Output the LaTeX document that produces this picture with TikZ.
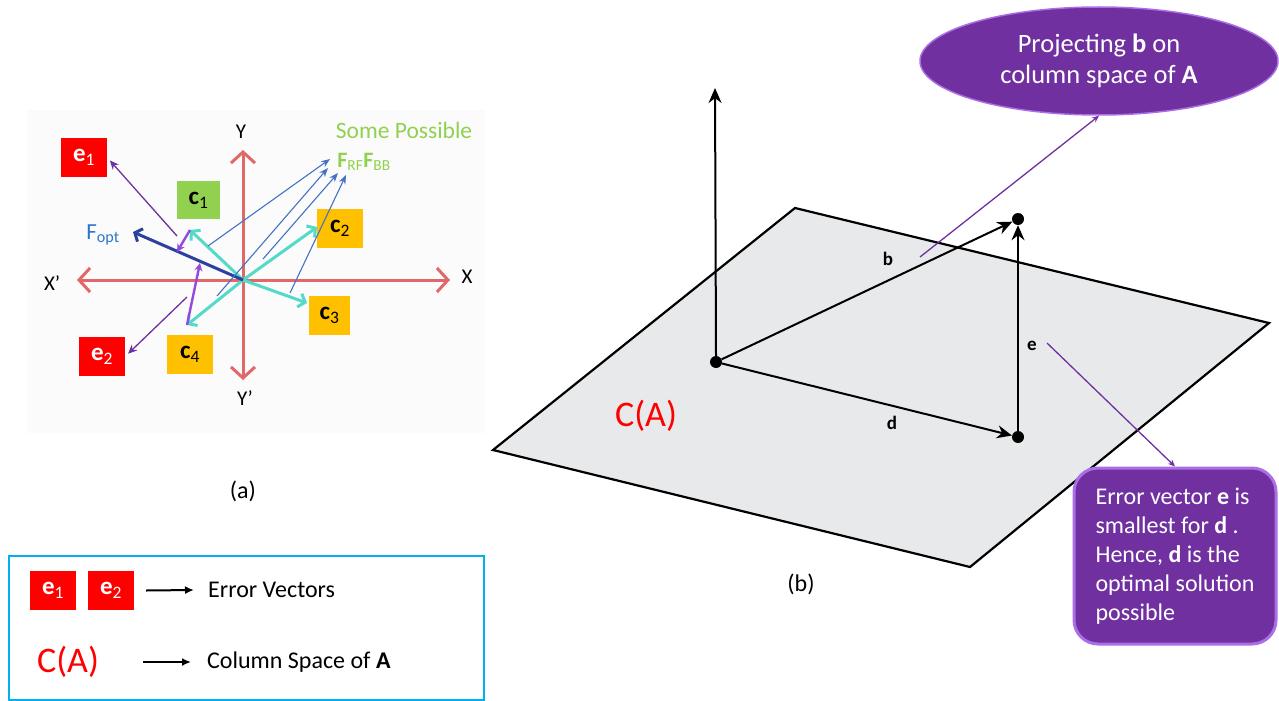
\documentclass[tikz,border=0pt]{standalone}
\usepackage{fontspec}
\setmainfont{Carlito}
\usetikzlibrary{arrows.meta,shapes.geometric}
\definecolor{axred}{RGB}{224,104,104}
\definecolor{cyanv}{RGB}{84,218,200}
\definecolor{foptc}{RGB}{44,64,160}
\definecolor{foptt}{RGB}{46,117,200}
\definecolor{thinblue}{RGB}{68,114,196}
\definecolor{purp}{HTML}{7030A0}
\definecolor{violettwo}{RGB}{150,72,224}
\definecolor{rimviolet}{RGB}{170,110,230}
\definecolor{lgreen}{HTML}{92D050}
\definecolor{orng}{HTML}{FFC000}
\definecolor{legblue}{HTML}{00B0F0}
\definecolor{planec}{RGB}{231,233,234}
\definecolor{bgA}{RGB}{251,251,251}
\newcommand{\fs}[2]{\fontsize{#1}{#2}\selectfont}
\tikzset{
  sqbox/.style={minimum width=46pt, minimum height=39pt, inner sep=0pt, font=\fs{25}{28}},
  ebox/.style={sqbox, fill=red, text=white},
  cgbox/.style={sqbox, fill=lgreen, text=black, minimum width=43pt, minimum height=38pt},
  cobox/.style={sqbox, fill=orng, text=black},
  axisline/.style={axred, line width=3pt, {Straight Barb[length=11pt,width=24pt]}-{Straight Barb[length=11pt,width=24pt]}},
  cvec/.style={cyanv, line width=3pt, -{Straight Barb[length=6pt,width=14pt]}},
  foptvec/.style={foptc, line width=3pt, -{Straight Barb[length=6pt,width=14pt]}},
  pthick/.style={violettwo, line width=2.4pt, -{Stealth[length=8pt,width=8pt]}},
  pthin/.style={purp, line width=1.3pt, -{Stealth[length=9pt,width=8pt]}},
  bthin/.style={thinblue, line width=1.1pt, -{Stealth[length=9pt,width=7pt]}},
  axlbl/.style={font=\fs{21}{25}, text=black, inner sep=0pt},
  bigred/.style={font=\fs{36}{40}, text=red, inner sep=0pt},
  caplbl/.style={font=\fs{24}{28}, inner sep=0pt},
  legtxt/.style={font=\fs{24}{28}, anchor=west, inner sep=0pt},
  legarrow/.style={black, line width=2pt, -{Latex[length=9pt,width=8pt]}},
  dot/.style={circle, fill=black, inner sep=0pt, minimum size=12pt},
  vec/.style={black, line width=2pt, -{Stealth[length=15pt,width=13pt]}},
  veclbl/.style={font=\fs{19}{22}\bfseries, inner sep=0pt},
  pline/.style={purp, line width=1.3pt, -{Stealth[length=7pt,width=6pt]}}
}
\begin{document}
\begin{tikzpicture}[x=1pt,y=-1pt]
\useasboundingbox (0,0) rectangle (1279,701);
% ---------- panel (a) ----------
\fill[bgA] (27,110) rectangle (485,433);
\coordinate (oa) at (243,280);
\coordinate (xl) at (77,280);
\coordinate (xr) at (450,280);
\coordinate (yt) at (243,150);
\coordinate (yb) at (243,380);
\draw[axisline] (xl) -- (xr);
\draw[axisline] (yt) -- (yb);
\node[axlbl] (Yn) at (241,132) {Y};
\node[axlbl] (Xn) at (467,277) {X};
\node[axlbl] (Xp) at (52,283) {X’};
\node[axlbl] (Yp) at (245,398) {Y’};
\node[font=\fs{23.5}{27}, text=lgreen, inner sep=0pt] (sp) at (404,130) {Some Possible};
\node[font=\fs{22}{26}, text=lgreen, inner sep=0pt] (frf) at (364,162) {\textbf{F}\textsubscript{RF}\textbf{F}\textsubscript{BB}};
% boxes
\node[ebox] (e1) at (84,157.5) {\textbf{e}\textsubscript{1}};
\node[ebox] (e2) at (102,356.5) {\textbf{e}\textsubscript{2}};
\node[cgbox] (c1) at (198.5,200) {\textbf{c}\textsubscript{1}};
\node[cobox] (c2) at (340,228.5) {\textbf{c}\textsubscript{2}};
\node[cobox, minimum width=41pt] (c3) at (329.5,315.5) {\textbf{c}\textsubscript{3}};
\node[cobox] (c4) at (190,354.5) {\textbf{c}\textsubscript{4}};
% vector tips
\coordinate (c1t) at (190,230);
\coordinate (c2t) at (317,227);
\coordinate (c3t) at (307,303);
\coordinate (c4t) at (187,325);
\coordinate (fopt) at (133,232);
\draw[cvec] (oa) -- (c1t);
\draw[cvec] (oa) -- (c2t);
\draw[cvec] (oa) -- (c3t);
\draw[cvec] (oa) -- (c4t);
\draw[foptvec] (oa) -- (fopt);
\node[font=\fs{23}{26}, text=foptt, inner sep=0pt] (foptl) at (103,235) {F\textsubscript{opt}};
% projections onto F_opt
\coordinate (p1) at (177,252);
\coordinate (p2) at (200,263);
\draw[pthick] (c1t) -- (p1);
\draw[pthick] (c4t) -- (p2);
% error vectors
\coordinate (s1) at (177,236);
\coordinate (s2) at (187,297);
\draw[pthin, shorten >=4pt] (s1) -- (e1.east);
\draw[pthin, shorten >=4pt] (s2) -- (e2.east);
% possible precoders
\coordinate (b1s) at (208,246);
\coordinate (b2s) at (217,296);
\coordinate (b3s) at (263,259);
\coordinate (b4s) at (290,293);
\coordinate (b1e) at (330,159);
\coordinate (b2e) at (328,168);
\coordinate (b3e) at (338,173);
\coordinate (b4e) at (346,175);
\draw[bthin] (b1s) -- (b1e);
\draw[bthin] (b2s) -- (b2e);
\draw[bthin] (b3s) -- (b3e);
\draw[bthin] (b4s) -- (b4e);
\node[caplbl] (capa) at (243,491) {(a)};
% ---------- legend ----------
\draw[legblue, line width=2.5pt] (9,556) rectangle (484,700);
\node[ebox] (le1) at (53,590.5) {\textbf{e}\textsubscript{1}};
\node[ebox] (le2) at (111,590.5) {\textbf{e}\textsubscript{2}};
\node[legtxt] (ev) at (208,590) {Error Vectors};
\draw[legarrow] ([xshift=12pt]le2.east) -- ([xshift=-14pt]ev.west);
\node[bigred] (lca) at (68,662) {C(A)};
\node[legtxt] (cs) at (207,662) {Column Space of \textbf{A}};
\draw[legarrow] ([xshift=-64pt]cs.west) -- ([xshift=-16pt]cs.west);
% ---------- panel (b) ----------
\filldraw[fill=planec, draw=black, line width=2.2pt, line join=miter]
  (795,208) -- (1269,323) -- (970,567) -- (493,450) -- cycle;
\node[dot] (O) at (716,362) {};
\node[dot] (D) at (1018,437) {};
\node[dot] (B) at (1018,219) {};
\coordinate (zt) at (715,88);
\draw[vec] (O.north) -- (zt);
\draw[vec] (O) -- (B);
\draw[vec] (O) -- (D);
\draw[vec] (D) -- (B);
\node[veclbl] (bl) at (888,259) {b};
\node[veclbl] (dl) at (892,423) {d};
\node[veclbl] (el) at (1032,346) {e};
\node[bigred] (ca) at (646,416) {C(A)};
\node[caplbl] (capb) at (801,584) {(b)};
% callouts
\node[ellipse, fill=purp, draw=rimviolet, line width=1.5pt, minimum width=358pt, minimum height=108pt,
      text=white, align=center, font=\fs{26.5}{31.5}, inner sep=0pt] (ell) at (1099,61)
      {Projecting \textbf{b} on\\column space of \textbf{A}};
\node[rectangle, rounded corners=24pt, fill=purp, draw=rimviolet, line width=3pt,
      minimum width=202pt, minimum height=176pt, text=white, align=left,
      font=\fs{24}{29}, inner sep=0pt] (rb) at (1175,556)
      {Error vector \textbf{e} is\\smallest for \textbf{d} .\\Hence, \textbf{d} is the\\optimal solution\\possible};
\coordinate (bs) at (920,257);
\coordinate (es) at (1047,343);
\draw[pline] (bs) -- (ell.south);
\draw[pline] (es) -- (rb.north);
\end{tikzpicture}
\end{document}
